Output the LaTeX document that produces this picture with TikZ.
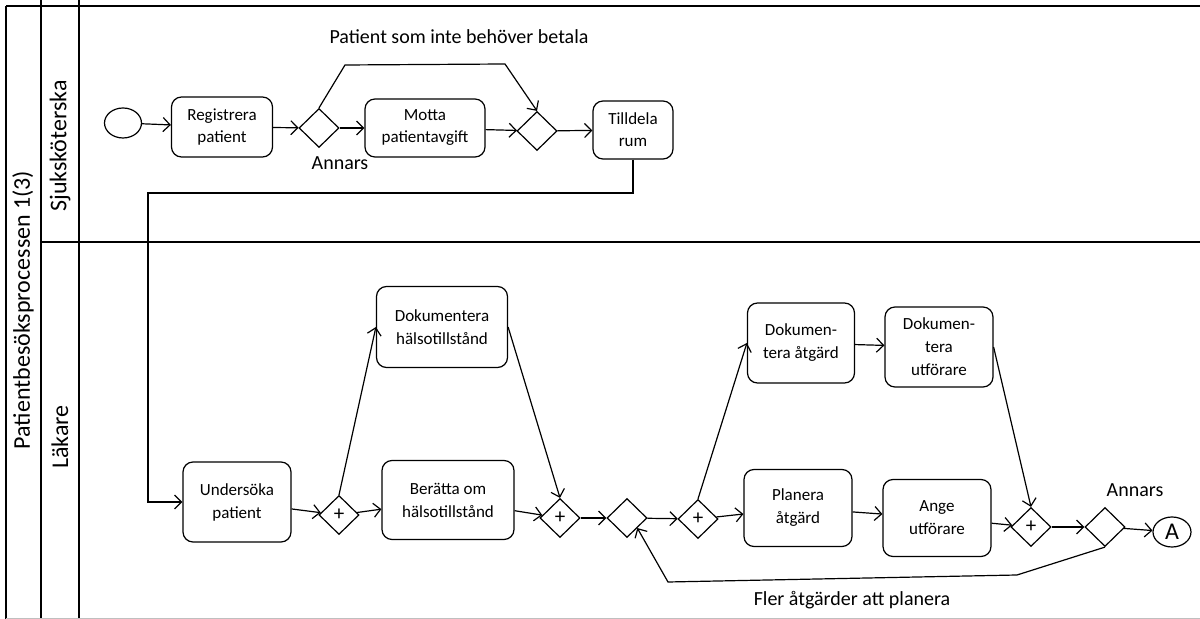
\documentclass[tikz,border=0pt]{standalone}
\usepackage{fontspec}
\setmainfont{Carlito}
\usetikzlibrary{shapes.geometric,arrows.meta}

\begin{document}
\begin{tikzpicture}[x=0.5pt,y=-0.5pt,
		flow/.style={-{Straight Barb[length=3.5pt,width=7pt]}, line width=0.6pt},
		task/.style={draw, line width=0.6pt, rounded corners=5pt, align=center, inner sep=1pt, font=\fontsize{8.5}{11.5}\selectfont},
		gate/.style={draw, diamond, line width=0.6pt, minimum width=20pt, minimum height=19.5pt, inner sep=0pt, font=\fontsize{10.5}{11}\selectfont},
		event/.style={draw, ellipse, line width=0.6pt, inner sep=0pt},
		lbl/.style={font=\fontsize{10}{12}\selectfont},
		lane/.style={rotate=90, font=\fontsize{12}{14}\selectfont}]
				\useasboundingbox (0,0) rectangle (1200,619);
				
				% pool and lanes
				\draw [line width=1pt] (6,6) -- (1200,6);
				\draw [line width=1pt] (6,6) -- (6,619);
				\draw [line width=1pt] (41,0) -- (41,619);
				\draw [line width=1pt] (79,0) -- (79,619);
				\draw [line width=1pt] (41,242) -- (1200,242);
				\draw [lightgray] (6,618) -- (1200,618);
				
				\node [lane] (pool) at (23,310) {Patientbesöksprocessen 1(3)};
				\node [lane] (nurse) at (60,146) {Sjuksköterska};
				\node [lane] (doctor) at (60,437) {Läkare};
				
				% nurse lane
				\node [event, minimum width=18.5pt, minimum height=15pt] (start) at (123,123) {};
				\node [task, minimum width=50.5pt, minimum height=30pt, font=\fontsize{8.5}{11}\selectfont] (reg) at (222,127) {Registrera\\patient};
				\node [gate] (d1) at (319,128) {};
				\node [task, minimum width=60pt, minimum height=29pt, font=\fontsize{8.5}{11}\selectfont] (pay) at (425,128) {Motta\\patientavgift};
				\node [gate] (d2) at (537,131) {};
				\node [task, minimum width=40pt, minimum height=29pt, font=\fontsize{8.5}{11}\selectfont] (room) at (633,130) {Tilldela\\rum};
				
				\coordinate (b1) at (345,65);
				\coordinate (b2) at (505,64);
				\coordinate (c1) at (148,193);
				
				\draw [flow] (start) -- (reg);
				\draw [flow] (reg) -- (d1);
				\draw [flow] (d1) -- (pay);
				\draw [flow] (pay) -- (d2);
				\draw [flow] (d2) -- (room);
				\draw [flow] (d1.north) -- (b1) -- (b2) -- (d2.north);
				
				\node [lbl] (free) at (459,37) {Patient som inte behöver betala};
				\node [lbl] (else1) at (340,163) {Annars};
				
				% doctor lane
				\node [task, minimum width=54pt, minimum height=40pt] (exam) at (237,502) {Undersöka\\patient};
				\node [gate] (p1) at (339,515) {+};
				\node [task, minimum width=65.5pt, minimum height=40.5pt] (dochealth) at (442,327) {Dokumentera\\hälsotillstånd};
				\node [task, minimum width=66pt, minimum height=39.5pt] (tell) at (448,500) {Berätta om\\hälsotillstånd};
				\node [gate] (p2) at (560,518) {+};
				\node [gate] (d3) at (627,518) {};
				\node [gate] (p3) at (698,519) {+};
				\node [task, minimum width=53.5pt, minimum height=40pt] (docact) at (801,343) {Dokumen-\\tera åtgärd};
				\node [task, minimum width=54pt, minimum height=40pt] (docexec) at (939,347) {Dokumen-\\tera\\utförare};
				\node [task, minimum width=54pt, minimum height=38.5pt] (plan) at (798,508) {Planera\\åtgärd};
				\node [task, minimum width=54pt, minimum height=38.5pt] (assign) at (937,518) {Ange\\utförare};
				\node [gate] (p4) at (1031,527) {+};
				\node [gate] (d5) at (1105,527) {};
				\node [event, minimum width=19pt, minimum height=15pt, font=\fontsize{12}{14}\selectfont] (cont) at (1172,532) {A};
				
				\coordinate (l1) at (1017,575);
				\coordinate (l2) at (668,582);
				
				\draw [flow] (room.south) |- (c1) |- (exam.west);
				\draw [flow] (exam) -- (p1);
				\draw [flow] (p1.north) -- (dochealth.west);
				\draw [flow] (p1) -- (tell);
				\draw [flow] (dochealth.east) -- (p2.north);
				\draw [flow] (tell) -- (p2);
				\draw [flow] (p2) -- (d3);
				\draw [flow] (d3) -- (p3);
				\draw [flow] (p3.north) -- (docact.west);
				\draw [flow] (p3) -- (plan);
				\draw [flow] (docact) -- (docexec);
				\draw [flow] (plan) -- (assign);
				\draw [flow] (docexec.east) -- (p4.north);
				\draw [flow] (assign) -- (p4);
				\draw [flow] (p4) -- (d5);
				\draw [flow] (d5) -- (cont);
				\draw [flow] (d5.south) -- (l1) -- (l2) -- (d3.south east);
				
				\node [lbl] (else2) at (1135,490) {Annars};
				\node [lbl] (more) at (852,600) {Fler åtgärder att planera};
\end{tikzpicture}
\end{document}
